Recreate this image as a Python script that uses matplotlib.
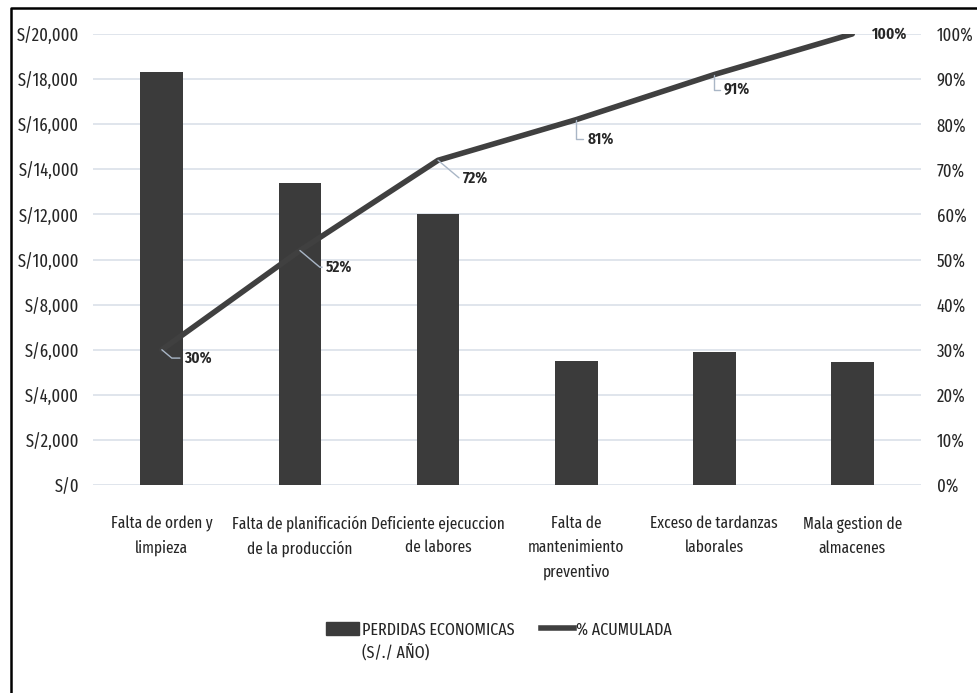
import numpy as np
import matplotlib
matplotlib.use("Agg")
import matplotlib.pyplot as plt
from matplotlib.patches import Patch
from matplotlib.lines import Line2D
from matplotlib.ticker import FuncFormatter

plt.rcParams["font.family"] = ["Fira Sans Extra Condensed", "Roboto Condensed",
                               "Liberation Sans Narrow", "DejaVu Sans"]

categories = [
    "Falta de orden y\nlimpieza",
    "Falta de planificación\nde la producción",
    "Deficiente ejecuccion\nde labores",
    "Falta de\nmantenimiento\npreventivo",
    "Exceso de tardanzas\nlaborales",
    "Mala gestion de\nalmacenes",
]
losses = [18300, 13400, 12000, 5500, 5900, 5450]
cum_pct = [30, 52, 72, 81, 91, 100]
cum_labels = ["30%", "52%", "72%", "81%", "91%", "100%"]

# label placement (offset in points, leader shape)
label_offsets = [(16, -6), (19, -12), (18, -13), (8, -14), (7, -11), (14, 0)]
leader_angle = [-40, -40, -40, 90, 90, None]

BAR = "#3b3b3b"
LINE = "#404040"
GRID = "#dde3ea"
LEADER = "#a9b6c6"
TXT = "#262626"
FS = 13

fig = plt.figure(figsize=(9.77, 6.93), dpi=100)
ax = fig.add_axes([0.095, 0.300, 0.848, 0.651])
ax2 = ax.twinx()

x = np.arange(len(categories))
ax.bar(x, losses, width=0.31, color=BAR, zorder=2)
ax.set_xlim(-0.5, len(categories) - 0.5)
ax.set_ylim(0, 20000)
ax.set_yticks(np.arange(0, 20001, 2000))
ax.yaxis.set_major_formatter(FuncFormatter(lambda v, _: f"S/{v:,.0f}"))
ax.grid(axis="y", color=GRID, lw=1.3, zorder=0)
ax.set_axisbelow(True)
ax.set_xticks(x)
ax.set_xticklabels(categories, fontsize=12, color=TXT, linespacing=1.6, va="top")
ax.tick_params(axis="both", length=0, colors=TXT, labelsize=FS)
ax.tick_params(axis="x", pad=22, labelsize=12)
ax.tick_params(axis="y", pad=10)
for s in ax.spines.values():
    s.set_visible(False)

ax2.plot(x, cum_pct, color=LINE, lw=4, solid_capstyle="round", zorder=3)
ax2.set_ylim(0, 100)
ax2.set_yticks(np.arange(0, 101, 10))
ax2.yaxis.set_major_formatter(FuncFormatter(lambda v, _: f"{v:.0f}%"))
ax2.tick_params(axis="y", length=0, colors=TXT, labelsize=FS, pad=11)
for s in ax2.spines.values():
    s.set_visible(False)

# data labels with leader lines
for i, (p, lab) in enumerate(zip(cum_pct, cum_labels)):
    kw = dict(xytext=label_offsets[i], textcoords="offset points", fontsize=12,
              fontweight="semibold", color=TXT, va="center", ha="left", zorder=4)
    if leader_angle[i] is not None:
        kw["arrowprops"] = dict(arrowstyle="-", color=LEADER, lw=1, shrinkA=1, shrinkB=0,
                                connectionstyle=f"angle,angleA=0,angleB={leader_angle[i]},rad=0")
    ax2.annotate(lab, (x[i], p), **kw)

# legend: handles aligned with the first text line, as in the original
handles = [Patch(color=BAR), Line2D([0], [0], color=LINE, lw=4)]
leg = fig.legend(handles, ["PERDIDAS ECONOMICAS", "% ACUMULADA"],
                 loc="center", bbox_to_anchor=(0.511, 0.091), ncol=2, frameon=False,
                 fontsize=12.5, handlelength=1.9, handleheight=0.8, handletextpad=0.15,
                 columnspacing=1.5, labelcolor=TXT)
fig.canvas.draw()
t0 = leg.get_texts()[0]
bb = t0.get_window_extent().transformed(fig.transFigure.inverted())
fig.text(bb.x0, bb.y0 - 0.008, "(S/./ AÑO)", fontsize=12.5, color=TXT, ha="left", va="top")

# frame of the original screenshot (only left and top edges are visible)
fig.add_artist(Line2D([0.011, 0.011, 1.0], [0.0, 0.988, 0.988], transform=fig.transFigure,
                      color="black", lw=1.8))

fig.savefig("out.png", dpi=100)
